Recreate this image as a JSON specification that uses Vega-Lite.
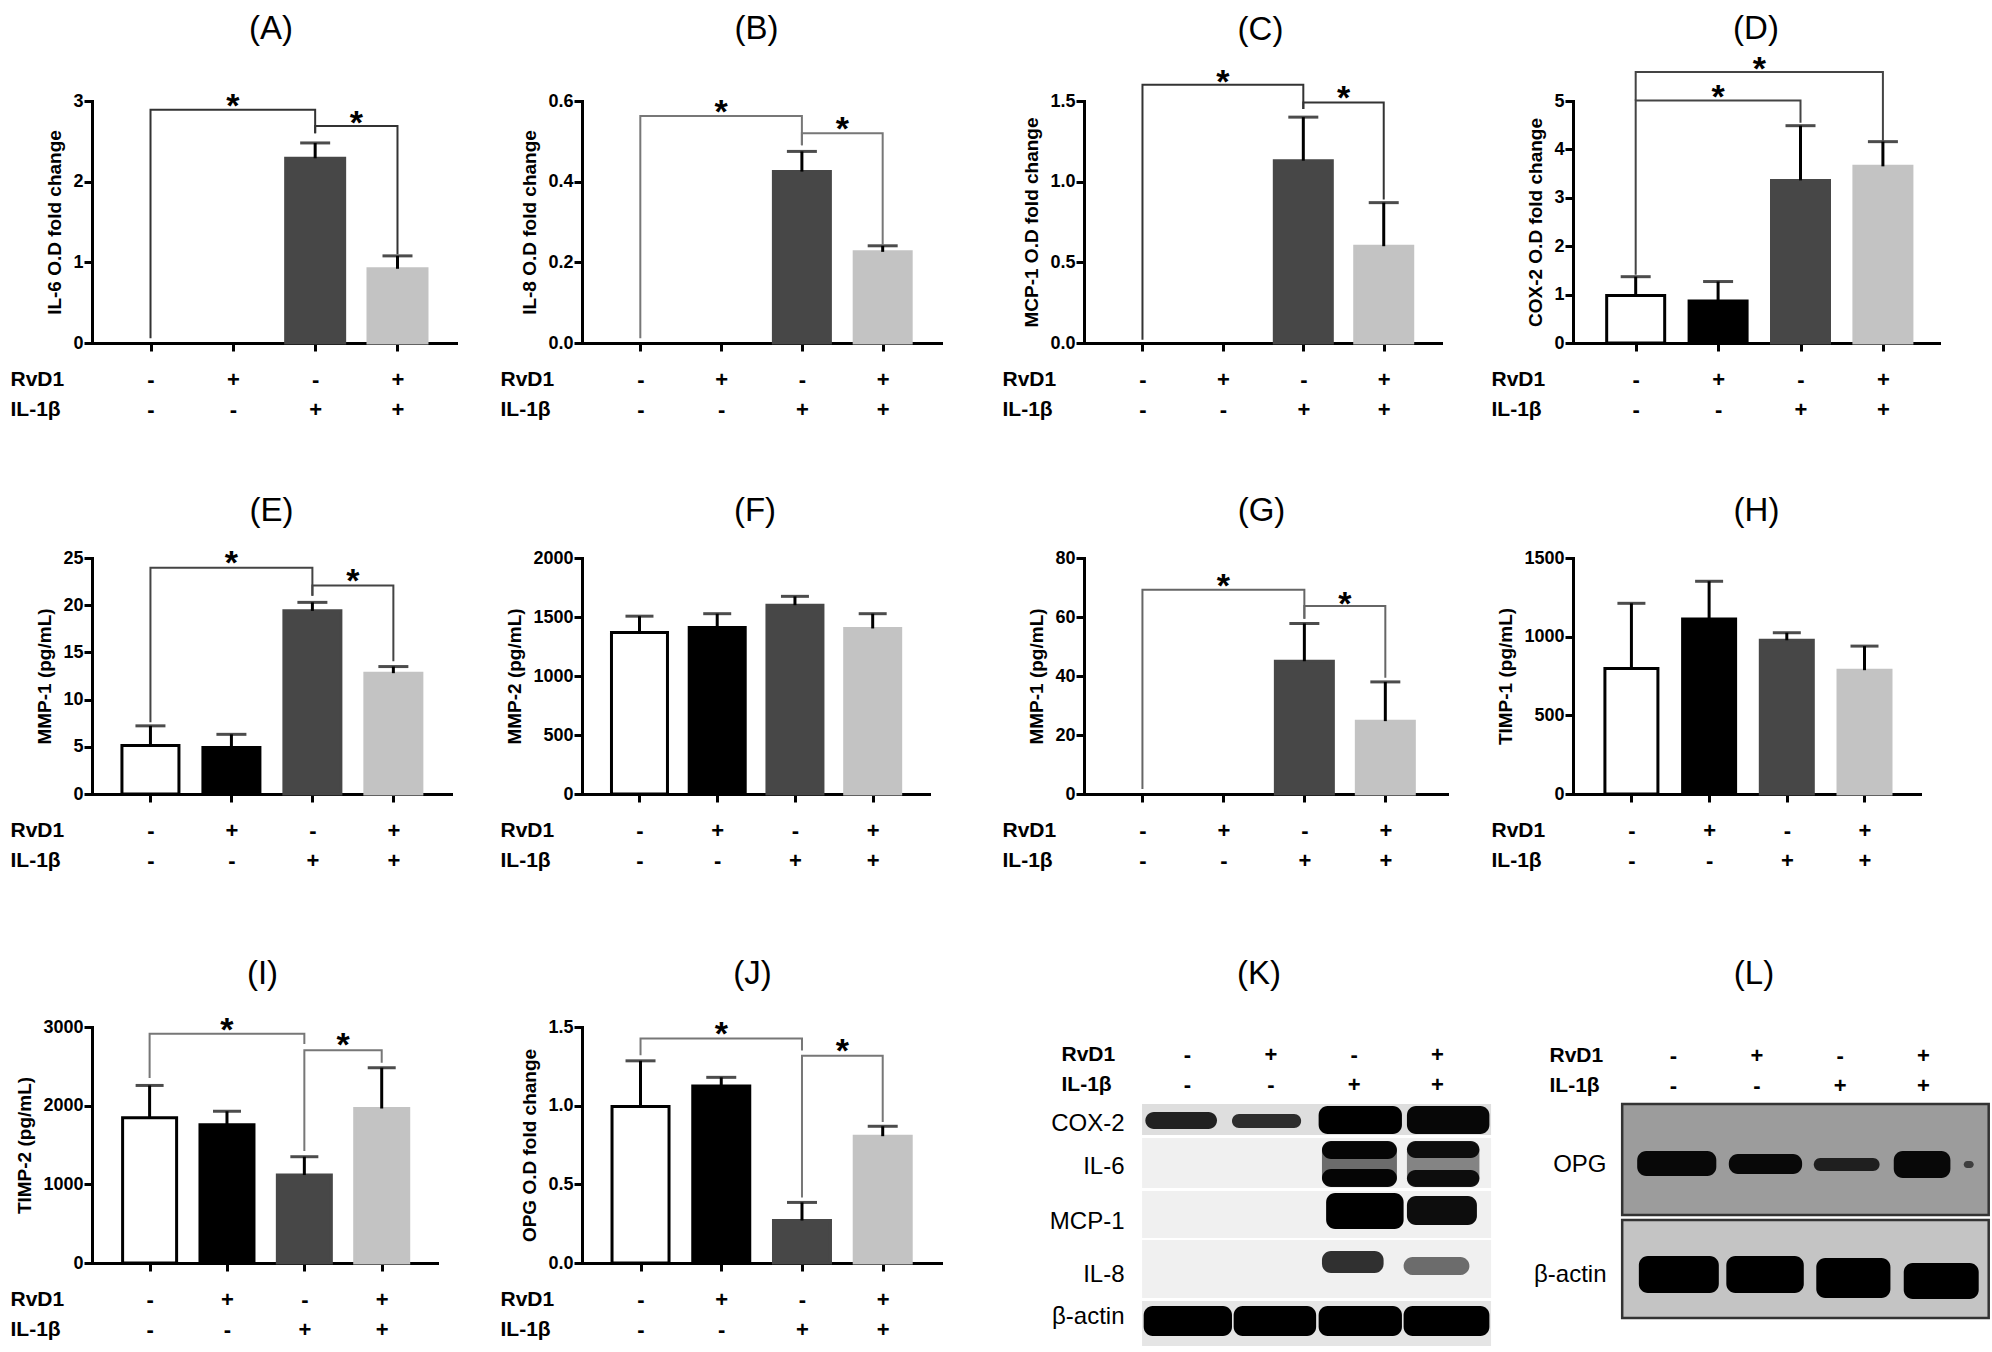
{
"$schema": "https://vega.github.io/schema/vega-lite/v6.json",
"background": "white",
"padding": {"left": 10, "top": 12, "right": 2, "bottom": 2},
"columns": 4,
"spacing": {"row": 215, "column": 126},
"bounds": "flush",
"align": "each",
"datasets": {
"A_bars": [{"x":3,"grp":"il","y":2.29,"hi":2.48},{"x":4,"grp":"both","y":0.92,"hi":1.08}],
"A_br": [{"b":1,"o":1,"x":1,"y":0.06},{"b":1,"o":2,"x":1,"y":2.89},{"b":1,"o":3,"x":3,"y":2.89},{"b":1,"o":4,"x":3,"y":2.6},{"b":2,"o":1,"x":3,"y":2.6},{"b":2,"o":2,"x":3,"y":2.69},{"b":2,"o":3,"x":4,"y":2.69},{"b":2,"o":4,"x":4,"y":1.1}],
"A_st": [{"x":2,"y":3.04},{"x":3.5,"y":2.83}],
"B_bars": [{"x":3,"grp":"il","y":0.425,"hi":0.475},{"x":4,"grp":"both","y":0.226,"hi":0.241}],
"B_br": [{"b":1,"o":1,"x":1,"y":0.012},{"b":1,"o":2,"x":1,"y":0.563},{"b":1,"o":3,"x":3,"y":0.563},{"b":1,"o":4,"x":3,"y":0.49},{"b":2,"o":1,"x":3,"y":0.49},{"b":2,"o":2,"x":3,"y":0.52},{"b":2,"o":3,"x":4,"y":0.52},{"b":2,"o":4,"x":4,"y":0.243}],
"B_st": [{"x":2,"y":0.593},{"x":3.5,"y":0.55}],
"C_bars": [{"x":3,"grp":"il","y":1.13,"hi":1.4},{"x":4,"grp":"both","y":0.6,"hi":0.87}],
"C_br": [{"b":1,"o":1,"x":1,"y":0.02},{"b":1,"o":2,"x":1,"y":1.6},{"b":1,"o":3,"x":3,"y":1.6},{"b":1,"o":4,"x":3,"y":1.45},{"b":2,"o":1,"x":3,"y":1.45},{"b":2,"o":2,"x":3,"y":1.49},{"b":2,"o":3,"x":4,"y":1.49},{"b":2,"o":4,"x":4,"y":0.89}],
"C_st": [{"x":2,"y":1.67},{"x":3.5,"y":1.57}],
"D_bars": [{"x":1,"grp":"ctl","y":0.98,"hi":1.37},{"x":2,"grp":"rvd","y":0.87,"hi":1.27},{"x":3,"grp":"il","y":3.36,"hi":4.49},{"x":4,"grp":"both","y":3.65,"hi":4.16}],
"D_br": [{"b":1,"o":1,"x":1,"y":5.01},{"b":1,"o":2,"x":1,"y":5.6},{"b":1,"o":3,"x":4,"y":5.6},{"b":1,"o":4,"x":4,"y":4.18},{"b":2,"o":1,"x":1,"y":1.41},{"b":2,"o":2,"x":1,"y":5.01},{"b":2,"o":3,"x":3,"y":5.01},{"b":2,"o":4,"x":3,"y":4.55}],
"D_st": [{"x":2.5,"y":5.82},{"x":2,"y":5.25}],
"E_bars": [{"x":1,"grp":"ctl","y":5.14,"hi":7.22},{"x":2,"grp":"rvd","y":4.93,"hi":6.32},{"x":3,"grp":"il","y":19.4,"hi":20.3},{"x":4,"grp":"both","y":12.8,"hi":13.5}],
"E_br": [{"b":1,"o":1,"x":1,"y":7.6},{"b":1,"o":2,"x":1,"y":23.96},{"b":1,"o":3,"x":3,"y":23.96},{"b":1,"o":4,"x":3,"y":21.0},{"b":2,"o":1,"x":3,"y":21.0},{"b":2,"o":2,"x":3,"y":22.1},{"b":2,"o":3,"x":4,"y":22.1},{"b":2,"o":4,"x":4,"y":14.06}],
"E_st": [{"x":2,"y":25.3},{"x":3.5,"y":23.4}],
"F_bars": [{"x":1,"grp":"ctl","y":1368,"hi":1507},{"x":2,"grp":"rvd","y":1412,"hi":1528},{"x":3,"grp":"il","y":1600,"hi":1675},{"x":4,"grp":"both","y":1403,"hi":1528}],
"G_bars": [{"x":3,"grp":"il","y":45,"hi":57.8},{"x":4,"grp":"both","y":24.7,"hi":38}],
"G_br": [{"b":1,"o":1,"x":1,"y":1.7},{"b":1,"o":2,"x":1,"y":69.2},{"b":1,"o":3,"x":3,"y":69.2},{"b":1,"o":4,"x":3,"y":59.4},{"b":2,"o":1,"x":3,"y":59.4},{"b":2,"o":2,"x":3,"y":63.7},{"b":2,"o":3,"x":4,"y":63.7},{"b":2,"o":4,"x":4,"y":39.4}],
"G_st": [{"x":2,"y":73.3},{"x":3.5,"y":67.2}],
"H_bars": [{"x":1,"grp":"ctl","y":798,"hi":1212},{"x":2,"grp":"rvd","y":1112,"hi":1352},{"x":3,"grp":"il","y":977,"hi":1025},{"x":4,"grp":"both","y":787,"hi":940}],
"I_bars": [{"x":1,"grp":"ctl","y":1847,"hi":2257},{"x":2,"grp":"rvd","y":1757,"hi":1929},{"x":3,"grp":"il","y":1118,"hi":1351},{"x":4,"grp":"both","y":1964,"hi":2482}],
"I_br": [{"b":1,"o":1,"x":1,"y":2352},{"b":1,"o":2,"x":1,"y":2914},{"b":1,"o":3,"x":3,"y":2914},{"b":1,"o":4,"x":3,"y":2784},{"b":2,"o":1,"x":3,"y":1424},{"b":2,"o":2,"x":3,"y":2706},{"b":2,"o":3,"x":4,"y":2706},{"b":2,"o":4,"x":4,"y":2547}],
"I_st": [{"x":2,"y":3065},{"x":3.5,"y":2870}],
"J_bars": [{"x":1,"grp":"ctl","y":0.994,"hi":1.285},{"x":2,"grp":"rvd","y":1.125,"hi":1.18},{"x":3,"grp":"il","y":0.27,"hi":0.385},{"x":4,"grp":"both","y":0.806,"hi":0.869}],
"J_br": [{"b":1,"o":1,"x":1,"y":1.32},{"b":1,"o":2,"x":1,"y":1.427},{"b":1,"o":3,"x":3,"y":1.427},{"b":1,"o":4,"x":3,"y":1.35},{"b":2,"o":1,"x":3,"y":0.417},{"b":2,"o":2,"x":3,"y":1.317},{"b":2,"o":3,"x":4,"y":1.317},{"b":2,"o":4,"x":4,"y":0.896}],
"J_st": [{"x":2,"y":1.506},{"x":3.5,"y":1.396}],
"K_strips": [{"x1":0.46,"x2":4.65,"y1":77,"y2":108,"v":0.13},{"x1":0.46,"x2":4.65,"y1":111,"y2":161,"v":0.06},{"x1":0.46,"x2":4.65,"y1":164,"y2":211,"v":0.06},{"x1":0.46,"x2":4.65,"y1":213,"y2":271,"v":0.06},{"x1":0.46,"x2":4.65,"y1":274,"y2":319,"v":0.1}],
"K_bands": [{"x1":0.5,"x2":1.36,"y1":85,"y2":102,"v":0.85},{"x1":1.54,"x2":2.37,"y1":87,"y2":101,"v":0.8},{"x1":2.58,"x2":3.58,"y1":79,"y2":107,"v":1},{"x1":3.64,"x2":4.63,"y1":79,"y2":107,"v":0.97},{"x1":2.62,"x2":3.52,"y1":115,"y2":159,"v":0.55},{"x1":2.62,"x2":3.52,"y1":114,"y2":132,"v":0.95},{"x1":2.62,"x2":3.52,"y1":142,"y2":160,"v":0.95},{"x1":3.64,"x2":4.51,"y1":115,"y2":159,"v":0.45},{"x1":3.64,"x2":4.51,"y1":114,"y2":131,"v":0.9},{"x1":3.64,"x2":4.51,"y1":143,"y2":160,"v":0.9},{"x1":2.67,"x2":3.6,"y1":166,"y2":202,"v":1},{"x1":3.64,"x2":4.48,"y1":169,"y2":198,"v":0.95},{"x1":2.62,"x2":3.36,"y1":224,"y2":246,"v":0.8},{"x1":3.6,"x2":4.39,"y1":230,"y2":248,"v":0.55},{"x1":0.48,"x2":1.54,"y1":279,"y2":309,"v":1},{"x1":1.56,"x2":2.55,"y1":279,"y2":309,"v":1},{"x1":2.58,"x2":3.58,"y1":279,"y2":309,"v":1},{"x1":3.6,"x2":4.63,"y1":279,"y2":309,"v":1}],
"L_boxes": [{"x1":0.39,"x2":4.79,"y1":77,"y2":188,"v":0.39},{"x1":0.39,"x2":4.79,"y1":193,"y2":291,"v":0.23}],
"L_bands": [{"x1":0.57,"x2":1.52,"y1":124,"y2":149,"v":0.95},{"x1":1.67,"x2":2.55,"y1":127,"y2":147,"v":0.95},{"x1":2.69,"x2":3.48,"y1":131,"y2":144,"v":0.8},{"x1":3.65,"x2":4.33,"y1":124,"y2":151,"v":0.95},{"x1":4.49,"x2":4.61,"y1":134,"y2":141,"v":0.6},{"x1":0.59,"x2":1.55,"y1":229,"y2":266,"v":1},{"x1":1.64,"x2":2.57,"y1":229,"y2":266,"v":1},{"x1":2.72,"x2":3.61,"y1":231,"y2":271,"v":1},{"x1":3.77,"x2":4.67,"y1":236,"y2":272,"v":1}]
},
"concat": [
{"width":364,"height":242,"title":{"text":"(A)","offset":44,"dx":-3},
 "encoding":{"x":{"field":"x","type":"quantitative","scale":{"domain":[0.35,4.65],"nice":false,"zero":false},"axis":{"values":[1,2,3,4],"labelExpr":"datum.value == 1 ? ['-', '-'] : datum.value == 2 ? ['+', '-'] : datum.value == 3 ? ['-', '+'] : ['+', '+']","title":["RvD1","IL-1β"]}},
  "y":{"field":"y","type":"quantitative","scale":{"domain":[0,3],"nice":false},"axis":{"values":[0,1,2,3],"format":"d","title":"IL-6 O.D fold change"}}},
 "layer":[
  {"data":{"name":"A_bars"},"mark":{"type":"bar","orient":"vertical","size":59,"strokeWidth":3},"encoding":{"fill":{"field":"grp","type":"nominal","scale":{"domain":["ctl","rvd","il","both"],"range":["#ffffff","#000000","#474747","#c3c3c3"]},"legend":null},"stroke":{"field":"grp","type":"nominal","scale":{"domain":["ctl","rvd","il","both"],"range":["#000000","#000000","#474747","#c3c3c3"]},"legend":null}}},
  {"data":{"name":"A_bars"},"mark":{"type":"rule","strokeWidth":3,"color":"#000"},"encoding":{"y2":{"field":"hi"}}},
  {"data":{"name":"A_bars"},"mark":{"type":"tick","orient":"horizontal","size":30,"thickness":3,"color":"#000"},"encoding":{"y":{"field":"hi","type":"quantitative","scale":{"domain":[0,3],"nice":false}}}},
  {"data":{"name":"A_br"},"mark":{"type":"line","strokeWidth":2,"color":"#333"},"encoding":{"detail":{"field":"b","type":"nominal"},"order":{"field":"o","type":"quantitative"}}},
  {"data":{"name":"A_st"},"mark":{"type":"text","text":"*","fontSize":34,"fontWeight":"bold","baseline":"alphabetic","dy":19,"color":"#000"}}
 ]},
{"width":359,"height":242,"title":{"text":"(B)","offset":46,"dx":-5},
 "encoding":{"x":{"field":"x","type":"quantitative","scale":{"domain":[0.34,4.66],"nice":false,"zero":false},"axis":{"values":[1,2,3,4],"labelExpr":"datum.value == 1 ? ['-', '-'] : datum.value == 2 ? ['+', '-'] : datum.value == 3 ? ['-', '+'] : ['+', '+']","title":["RvD1","IL-1β"]}},
  "y":{"field":"y","type":"quantitative","scale":{"domain":[0,0.6],"nice":false},"axis":{"values":[0,0.2,0.4,0.6],"format":".1f","title":"IL-8 O.D fold change"}}},
 "layer":[
  {"data":{"name":"B_bars"},"mark":{"type":"bar","orient":"vertical","size":57,"strokeWidth":3},"encoding":{"fill":{"field":"grp","type":"nominal","scale":{"domain":["ctl","rvd","il","both"],"range":["#ffffff","#000000","#474747","#c3c3c3"]},"legend":null},"stroke":{"field":"grp","type":"nominal","scale":{"domain":["ctl","rvd","il","both"],"range":["#000000","#000000","#474747","#c3c3c3"]},"legend":null}}},
  {"data":{"name":"B_bars"},"mark":{"type":"rule","strokeWidth":3,"color":"#000"},"encoding":{"y2":{"field":"hi"}}},
  {"data":{"name":"B_bars"},"mark":{"type":"tick","orient":"horizontal","size":30,"thickness":3,"color":"#000"},"encoding":{"y":{"field":"hi","type":"quantitative","scale":{"domain":[0,0.6],"nice":false}}}},
  {"data":{"name":"B_br"},"mark":{"type":"line","strokeWidth":2,"color":"#777"},"encoding":{"detail":{"field":"b","type":"nominal"},"order":{"field":"o","type":"quantitative"}}},
  {"data":{"name":"B_st"},"mark":{"type":"text","text":"*","fontSize":34,"fontWeight":"bold","baseline":"alphabetic","dy":19,"color":"#000"}}
 ]},
{"width":357,"height":242,"title":{"text":"(C)","offset":19,"dx":-2},
 "encoding":{"x":{"field":"x","type":"quantitative","scale":{"domain":[0.335,4.65],"nice":false,"zero":false},"axis":{"values":[1,2,3,4],"labelExpr":"datum.value == 1 ? ['-', '-'] : datum.value == 2 ? ['+', '-'] : datum.value == 3 ? ['-', '+'] : ['+', '+']","title":["RvD1","IL-1β"]}},
  "y":{"field":"y","type":"quantitative","scale":{"domain":[0,1.5],"nice":false},"axis":{"values":[0,0.5,1,1.5],"format":".1f","title":"MCP-1 O.D fold change"}}},
 "layer":[
  {"data":{"name":"C_bars"},"mark":{"type":"bar","orient":"vertical","size":58,"strokeWidth":3},"encoding":{"fill":{"field":"grp","type":"nominal","scale":{"domain":["ctl","rvd","il","both"],"range":["#ffffff","#000000","#474747","#c3c3c3"]},"legend":null},"stroke":{"field":"grp","type":"nominal","scale":{"domain":["ctl","rvd","il","both"],"range":["#000000","#000000","#474747","#c3c3c3"]},"legend":null}}},
  {"data":{"name":"C_bars"},"mark":{"type":"rule","strokeWidth":3,"color":"#000"},"encoding":{"y2":{"field":"hi"}}},
  {"data":{"name":"C_bars"},"mark":{"type":"tick","orient":"horizontal","size":30,"thickness":3,"color":"#000"},"encoding":{"y":{"field":"hi","type":"quantitative","scale":{"domain":[0,1.5],"nice":false}}}},
  {"data":{"name":"C_br"},"mark":{"type":"line","strokeWidth":2,"color":"#333"},"encoding":{"detail":{"field":"b","type":"nominal"},"order":{"field":"o","type":"quantitative"}}},
  {"data":{"name":"C_st"},"mark":{"type":"text","text":"*","fontSize":34,"fontWeight":"bold","baseline":"alphabetic","dy":19,"color":"#000"}}
 ]},
{"width":366,"height":242,"title":{"text":"(D)","offset":7,"dx":0},
 "encoding":{"x":{"field":"x","type":"quantitative","scale":{"domain":[0.3,4.62],"nice":false,"zero":false},"axis":{"values":[1,2,3,4],"labelExpr":"datum.value == 1 ? ['-', '-'] : datum.value == 2 ? ['+', '-'] : datum.value == 3 ? ['-', '+'] : ['+', '+']","title":["RvD1","IL-1β"]}},
  "y":{"field":"y","type":"quantitative","scale":{"domain":[0,5],"nice":false},"axis":{"values":[0,1,2,3,4,5],"format":"d","title":"COX-2 O.D fold change"}}},
 "layer":[
  {"data":{"name":"D_bars"},"mark":{"type":"bar","orient":"vertical","size":58,"strokeWidth":3},"encoding":{"fill":{"field":"grp","type":"nominal","scale":{"domain":["ctl","rvd","il","both"],"range":["#ffffff","#000000","#474747","#c3c3c3"]},"legend":null},"stroke":{"field":"grp","type":"nominal","scale":{"domain":["ctl","rvd","il","both"],"range":["#000000","#000000","#474747","#c3c3c3"]},"legend":null}}},
  {"data":{"name":"D_bars"},"mark":{"type":"rule","strokeWidth":3,"color":"#000"},"encoding":{"y2":{"field":"hi"}}},
  {"data":{"name":"D_bars"},"mark":{"type":"tick","orient":"horizontal","size":30,"thickness":3,"color":"#000"},"encoding":{"y":{"field":"hi","type":"quantitative","scale":{"domain":[0,5],"nice":false}}}},
  {"data":{"name":"D_br"},"mark":{"type":"line","strokeWidth":2,"color":"#444"},"encoding":{"detail":{"field":"b","type":"nominal"},"order":{"field":"o","type":"quantitative"}}},
  {"data":{"name":"D_st"},"mark":{"type":"text","text":"*","fontSize":34,"fontWeight":"bold","baseline":"alphabetic","dy":19,"color":"#000"}}
 ]},
{"width":359,"height":236,"title":{"text":"(E)","offset":19,"dx":0},
 "encoding":{"x":{"field":"x","type":"quantitative","scale":{"domain":[0.34,4.65],"nice":false,"zero":false},"axis":{"values":[1,2,3,4],"labelExpr":"datum.value == 1 ? ['-', '-'] : datum.value == 2 ? ['+', '-'] : datum.value == 3 ? ['-', '+'] : ['+', '+']","title":["RvD1","IL-1β"]}},
  "y":{"field":"y","type":"quantitative","scale":{"domain":[0,25],"nice":false},"axis":{"values":[0,5,10,15,20,25],"format":"d","title":"MMP-1 (pg/mL)"}}},
 "layer":[
  {"data":{"name":"E_bars"},"mark":{"type":"bar","orient":"vertical","size":57,"strokeWidth":3},"encoding":{"fill":{"field":"grp","type":"nominal","scale":{"domain":["ctl","rvd","il","both"],"range":["#ffffff","#000000","#474747","#c3c3c3"]},"legend":null},"stroke":{"field":"grp","type":"nominal","scale":{"domain":["ctl","rvd","il","both"],"range":["#000000","#000000","#474747","#c3c3c3"]},"legend":null}}},
  {"data":{"name":"E_bars"},"mark":{"type":"rule","strokeWidth":3,"color":"#000"},"encoding":{"y2":{"field":"hi"}}},
  {"data":{"name":"E_bars"},"mark":{"type":"tick","orient":"horizontal","size":30,"thickness":3,"color":"#000"},"encoding":{"y":{"field":"hi","type":"quantitative","scale":{"domain":[0,25],"nice":false}}}},
  {"data":{"name":"E_br"},"mark":{"type":"line","strokeWidth":2,"color":"#444"},"encoding":{"detail":{"field":"b","type":"nominal"},"order":{"field":"o","type":"quantitative"}}},
  {"data":{"name":"E_st"},"mark":{"type":"text","text":"*","fontSize":34,"fontWeight":"bold","baseline":"alphabetic","dy":19,"color":"#000"}}
 ]},
{"width":376,"height":254,"title":{"text":"(F)","offset":21,"dx":-15},
 "encoding":{"x":{"field":"x","type":"quantitative","scale":{"domain":[0.325,4.66],"range":[0,347],"nice":false,"zero":false},"axis":{"values":[1,2,3,4],"offset":-18,"labelExpr":"datum.value == 1 ? ['-', '-'] : datum.value == 2 ? ['+', '-'] : datum.value == 3 ? ['-', '+'] : ['+', '+']","title":["RvD1","IL-1β"]}},
  "y":{"field":"y","type":"quantitative","scale":{"domain":[0,2000],"range":[236,0],"nice":false},"axis":{"values":[0,500,1000,1500,2000],"format":"d","title":"MMP-2 (pg/mL)"}}},
 "layer":[
  {"data":{"name":"F_bars"},"mark":{"type":"bar","orient":"vertical","size":56,"strokeWidth":3},"encoding":{"fill":{"field":"grp","type":"nominal","scale":{"domain":["ctl","rvd","il","both"],"range":["#ffffff","#000000","#474747","#c3c3c3"]},"legend":null},"stroke":{"field":"grp","type":"nominal","scale":{"domain":["ctl","rvd","il","both"],"range":["#000000","#000000","#474747","#c3c3c3"]},"legend":null}}},
  {"data":{"name":"F_bars"},"mark":{"type":"rule","strokeWidth":3,"color":"#000"},"encoding":{"y2":{"field":"hi"}}},
  {"data":{"name":"F_bars"},"mark":{"type":"tick","orient":"horizontal","size":28,"thickness":3,"color":"#000"},"encoding":{"y":{"field":"hi","type":"quantitative","scale":{"domain":[0,2000],"range":[236,0],"nice":false}}}}
 ]},
{"width":363,"height":236,"title":{"text":"(G)","offset":21,"dx":-4},
 "encoding":{"x":{"field":"x","type":"quantitative","scale":{"domain":[0.34,4.7],"nice":false,"zero":false},"axis":{"values":[1,2,3,4],"labelExpr":"datum.value == 1 ? ['-', '-'] : datum.value == 2 ? ['+', '-'] : datum.value == 3 ? ['-', '+'] : ['+', '+']","title":["RvD1","IL-1β"]}},
  "y":{"field":"y","type":"quantitative","scale":{"domain":[0,80],"nice":false},"axis":{"values":[0,20,40,60,80],"format":"d","title":"MMP-1 (pg/mL)"}}},
 "layer":[
  {"data":{"name":"G_bars"},"mark":{"type":"bar","orient":"vertical","size":58,"strokeWidth":3},"encoding":{"fill":{"field":"grp","type":"nominal","scale":{"domain":["ctl","rvd","il","both"],"range":["#ffffff","#000000","#474747","#c3c3c3"]},"legend":null},"stroke":{"field":"grp","type":"nominal","scale":{"domain":["ctl","rvd","il","both"],"range":["#000000","#000000","#474747","#c3c3c3"]},"legend":null}}},
  {"data":{"name":"G_bars"},"mark":{"type":"rule","strokeWidth":3,"color":"#000"},"encoding":{"y2":{"field":"hi"}}},
  {"data":{"name":"G_bars"},"mark":{"type":"tick","orient":"horizontal","size":30,"thickness":3,"color":"#000"},"encoding":{"y":{"field":"hi","type":"quantitative","scale":{"domain":[0,80],"nice":false}}}},
  {"data":{"name":"G_br"},"mark":{"type":"line","strokeWidth":2,"color":"#666"},"encoding":{"detail":{"field":"b","type":"nominal"},"order":{"field":"o","type":"quantitative"}}},
  {"data":{"name":"G_st"},"mark":{"type":"text","text":"*","fontSize":34,"fontWeight":"bold","baseline":"alphabetic","dy":19,"color":"#000"}}
 ]},
{"width":347,"height":236,"title":{"text":"(H)","offset":21,"dx":10},
 "encoding":{"x":{"field":"x","type":"quantitative","scale":{"domain":[0.3125,4.65],"nice":false,"zero":false},"axis":{"values":[1,2,3,4],"labelExpr":"datum.value == 1 ? ['-', '-'] : datum.value == 2 ? ['+', '-'] : datum.value == 3 ? ['-', '+'] : ['+', '+']","title":["RvD1","IL-1β"]}},
  "y":{"field":"y","type":"quantitative","scale":{"domain":[0,1500],"nice":false},"axis":{"values":[0,500,1000,1500],"format":"d","title":"TIMP-1 (pg/mL)"}}},
 "layer":[
  {"data":{"name":"H_bars"},"mark":{"type":"bar","orient":"vertical","size":53,"strokeWidth":3},"encoding":{"fill":{"field":"grp","type":"nominal","scale":{"domain":["ctl","rvd","il","both"],"range":["#ffffff","#000000","#474747","#c3c3c3"]},"legend":null},"stroke":{"field":"grp","type":"nominal","scale":{"domain":["ctl","rvd","il","both"],"range":["#000000","#000000","#474747","#c3c3c3"]},"legend":null}}},
  {"data":{"name":"H_bars"},"mark":{"type":"rule","strokeWidth":3,"color":"#000"},"encoding":{"y2":{"field":"hi"}}},
  {"data":{"name":"H_bars"},"mark":{"type":"tick","orient":"horizontal","size":28,"thickness":3,"color":"#000"},"encoding":{"y":{"field":"hi","type":"quantitative","scale":{"domain":[0,1500],"nice":false}}}}
 ]},
{"width":345,"height":236,"title":{"text":"(I)","offset":23,"dx":-2},
 "encoding":{"x":{"field":"x","type":"quantitative","scale":{"domain":[0.32,4.65],"nice":false,"zero":false},"axis":{"values":[1,2,3,4],"labelExpr":"datum.value == 1 ? ['-', '-'] : datum.value == 2 ? ['+', '-'] : datum.value == 3 ? ['-', '+'] : ['+', '+']","title":["RvD1","IL-1β"]}},
  "y":{"field":"y","type":"quantitative","scale":{"domain":[0,3000],"nice":false},"axis":{"values":[0,1000,2000,3000],"format":"d","title":"TIMP-2 (pg/mL)"}}},
 "layer":[
  {"data":{"name":"I_bars"},"mark":{"type":"bar","orient":"vertical","size":54,"strokeWidth":3},"encoding":{"fill":{"field":"grp","type":"nominal","scale":{"domain":["ctl","rvd","il","both"],"range":["#ffffff","#000000","#474747","#c3c3c3"]},"legend":null},"stroke":{"field":"grp","type":"nominal","scale":{"domain":["ctl","rvd","il","both"],"range":["#000000","#000000","#474747","#c3c3c3"]},"legend":null}}},
  {"data":{"name":"I_bars"},"mark":{"type":"rule","strokeWidth":3,"color":"#000"},"encoding":{"y2":{"field":"hi"}}},
  {"data":{"name":"I_bars"},"mark":{"type":"tick","orient":"horizontal","size":28,"thickness":3,"color":"#000"},"encoding":{"y":{"field":"hi","type":"quantitative","scale":{"domain":[0,3000],"nice":false}}}},
  {"data":{"name":"I_br"},"mark":{"type":"line","strokeWidth":2,"color":"#777"},"encoding":{"detail":{"field":"b","type":"nominal"},"order":{"field":"o","type":"quantitative"}}},
  {"data":{"name":"I_st"},"mark":{"type":"text","text":"*","fontSize":34,"fontWeight":"bold","baseline":"alphabetic","dy":19,"color":"#000"}}
 ]},
{"width":359,"height":236,"title":{"text":"(J)","offset":27,"dx":-9},
 "encoding":{"x":{"field":"x","type":"quantitative","scale":{"domain":[0.337,4.66],"nice":false,"zero":false},"axis":{"values":[1,2,3,4],"labelExpr":"datum.value == 1 ? ['-', '-'] : datum.value == 2 ? ['+', '-'] : datum.value == 3 ? ['-', '+'] : ['+', '+']","title":["RvD1","IL-1β"]}},
  "y":{"field":"y","type":"quantitative","scale":{"domain":[0,1.5],"nice":false},"axis":{"values":[0,0.5,1,1.5],"format":".1f","title":"OPG O.D fold change"}}},
 "layer":[
  {"data":{"name":"J_bars"},"mark":{"type":"bar","orient":"vertical","size":57,"strokeWidth":3},"encoding":{"fill":{"field":"grp","type":"nominal","scale":{"domain":["ctl","rvd","il","both"],"range":["#ffffff","#000000","#474747","#c3c3c3"]},"legend":null},"stroke":{"field":"grp","type":"nominal","scale":{"domain":["ctl","rvd","il","both"],"range":["#000000","#000000","#474747","#c3c3c3"]},"legend":null}}},
  {"data":{"name":"J_bars"},"mark":{"type":"rule","strokeWidth":3,"color":"#000"},"encoding":{"y2":{"field":"hi"}}},
  {"data":{"name":"J_bars"},"mark":{"type":"tick","orient":"horizontal","size":30,"thickness":3,"color":"#000"},"encoding":{"y":{"field":"hi","type":"quantitative","scale":{"domain":[0,1.5],"nice":false}}}},
  {"data":{"name":"J_br"},"mark":{"type":"line","strokeWidth":2,"color":"#777"},"encoding":{"detail":{"field":"b","type":"nominal"},"order":{"field":"o","type":"quantitative"}}},
  {"data":{"name":"J_st"},"mark":{"type":"text","text":"*","fontSize":34,"fontWeight":"bold","baseline":"alphabetic","dy":19,"color":"#000"}}
 ]},
{"width":363,"height":319,"title":{"text":"(K)","offset":36,"dx":-6.5},
 "encoding":{"x":{"field":"x1","type":"quantitative","scale":{"domain":[-0.2365,4.121],"nice":false,"zero":false},"axis":{"orient":"top","values":[1,2,3,4],"labelExpr":"datum.value == 1 ? ['-', '-'] : datum.value == 2 ? ['+', '-'] : datum.value == 3 ? ['-', '+'] : ['+', '+']","domain":false,"ticks":false,"tickSize":0,"labelPadding":-27,"title":["RvD1","IL-1β"],"titleX":-23,"titleY":27}},
  "x2":{"field":"x2"},
  "y":{"field":"y1","type":"quantitative","scale":{"domain":[0,319],"reverse":true,"nice":false,"zero":false},"axis":{"values":[96,139,194,247,289],"labelExpr":"datum.value == 96 ? 'COX-2' : datum.value == 139 ? 'IL-6' : datum.value == 194 ? 'MCP-1' : datum.value == 247 ? 'IL-8' : 'β-actin'","domain":false,"ticks":false,"tickSize":0,"labelPadding":-40,"labelFontSize":24,"labelFontWeight":"normal","title":null}},
  "y2":{"field":"y2"},
  "fillOpacity":{"field":"v","type":"quantitative","scale":{"domain":[0,1],"range":[0,1]},"legend":null}},
 "layer":[
  {"data":{"name":"K_strips"},"mark":{"type":"rect","fill":"#000"}},
  {"data":{"name":"K_bands"},"mark":{"type":"rect","fill":"#000","cornerRadius":9}}
 ]},
{"width":416,"height":291,"title":{"text":"(L)","offset":36,"dx":-27},
 "encoding":{"x":{"field":"x1","type":"quantitative","scale":{"domain":[-0.2005,4.7935],"nice":false,"zero":false},"axis":{"orient":"top","values":[1,2,3,4],"labelExpr":"datum.value == 1 ? ['-', '-'] : datum.value == 2 ? ['+', '-'] : datum.value == 3 ? ['-', '+'] : ['+', '+']","domain":false,"ticks":false,"tickSize":0,"labelPadding":-28,"title":["RvD1","IL-1β"],"titleX":-24,"titleY":28}},
  "x2":{"field":"x2"},
  "y":{"field":"y1","type":"quantitative","scale":{"domain":[0,291],"reverse":true,"nice":false,"zero":false},"axis":{"values":[137,247],"labelExpr":"datum.value == 137 ? 'OPG' : 'β-actin'","domain":false,"ticks":false,"tickSize":0,"labelPadding":-33,"labelFontSize":24,"labelFontWeight":"normal","title":null}},
  "y2":{"field":"y2"},
  "fillOpacity":{"field":"v","type":"quantitative","scale":{"domain":[0,1],"range":[0,1]},"legend":null}},
 "layer":[
  {"data":{"name":"L_boxes"},"mark":{"type":"rect","fill":"#000","stroke":"#333","strokeWidth":2.5}},
  {"data":{"name":"L_bands"},"mark":{"type":"rect","fill":"#000","cornerRadius":9}}
 ]}
],
"config": {
 "font": "Liberation Sans",
 "view": {"stroke": null},
 "axis": {"grid": false, "domainColor": "#000", "tickColor": "#000", "labelColor": "#000", "titleColor": "#000", "domainCap": "square"},
 "axisX": {"domainWidth": 3, "tickWidth": 3, "tickSize": 8, "labelFontSize": 22, "labelFontWeight": "bold", "labelLineHeight": 30, "labelBaseline": "middle", "labelPadding": 28, "labelFlush": false, "labelAngle": 0, "labelOverlap": false, "labelBound": false, "titleFontSize": 21, "titleFontWeight": "bold", "titleLineHeight": 30, "titleX": -82, "titleY": 36, "titleAlign": "left", "titleBaseline": "middle", "titleAngle": 0},
 "axisY": {"domainWidth": 3, "tickWidth": 3, "tickSize": 8, "labelFontSize": 18, "labelFontWeight": "bold", "labelPadding": 1, "labelFlush": false, "labelOverlap": false, "titleFontSize": 19, "titleFontWeight": "bold", "titlePadding": 8},
 "title": {"fontSize": 33, "fontWeight": "normal", "anchor": "middle", "frame": "group", "baseline": "bottom", "color": "#000"}
}
}
